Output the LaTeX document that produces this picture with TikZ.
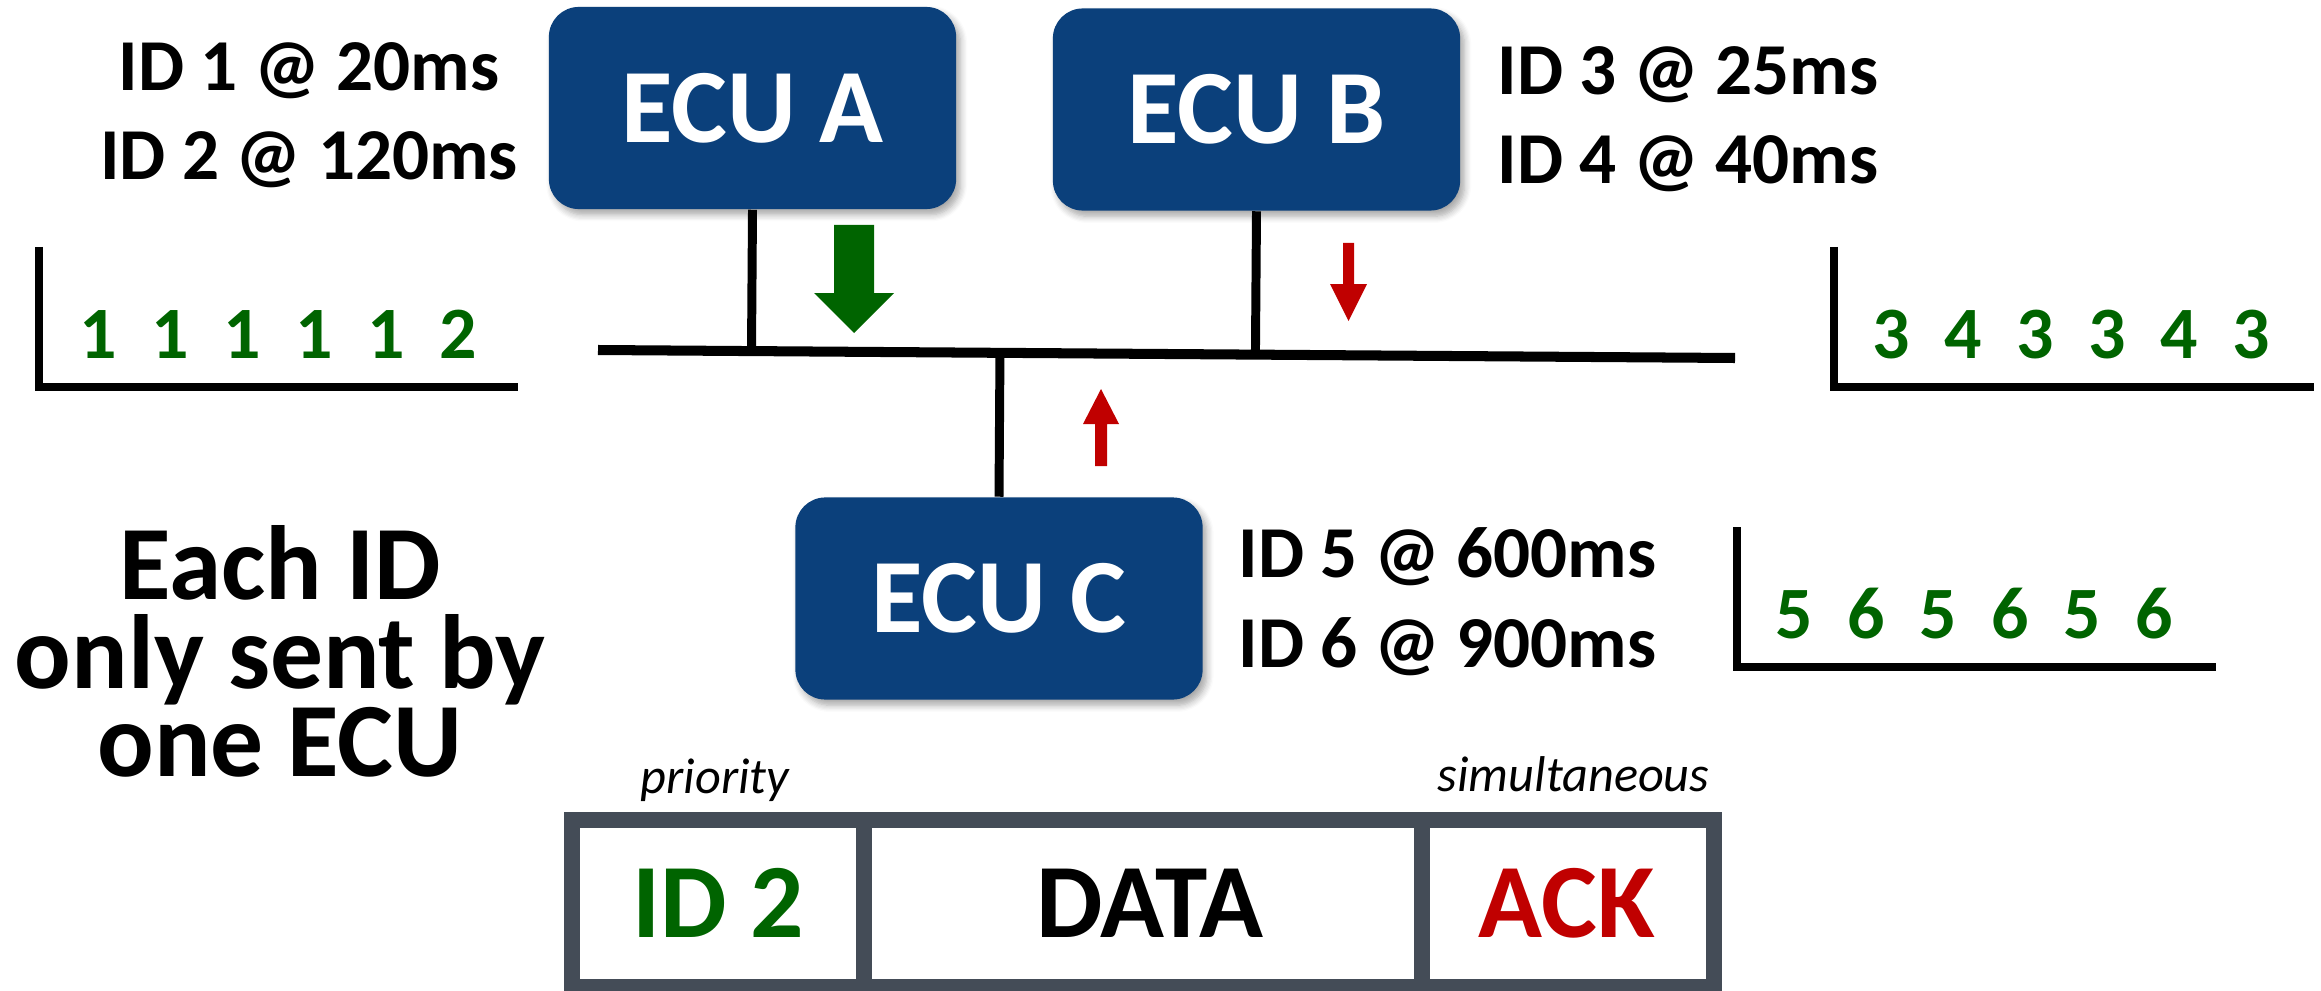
\documentclass[tikz,border=0pt]{standalone}
\usepackage{fontspec}
\setmainfont{Carlito}
\usetikzlibrary{calc,shadows.blur}
\definecolor{ecublue}{RGB}{11,64,123}
\definecolor{idgreen}{RGB}{0,100,0}
\definecolor{ackred}{RGB}{192,0,0}
\definecolor{framegray}{RGB}{68,76,87}
% one digit of a message sequence, centred in a fixed slot
\newcommand{\tk}[1]{\makebox[20.5pt]{#1}}
\begin{document}
\begin{tikzpicture}[x=0.01cm,y=-0.01cm,
  ecu/.style={rectangle, rounded corners=8.5pt, fill=ecublue, text=white,
    minimum width=4.07cm, minimum height=2.02cm, inner sep=0pt,
    font={\fontsize{30pt}{30pt}\selectfont\bfseries},
    blur shadow={shadow xshift=1.2pt, shadow yshift=-1.6pt, shadow opacity=35, shadow blur steps=6}},
  bus/.style={line width=2.85pt, black},
  stub/.style={line width=2.55pt, black},
  axis/.style={line width=2.3pt, black, line join=miter},
  lbl/.style={inner sep=0pt, font={\fontsize{20.8pt}{20.8pt}\selectfont\bfseries}},
  digits/.style={inner sep=0pt, text=idgreen, font={\fontsize{21pt}{21pt}\selectfont\bfseries}},
  big/.style={inner sep=0pt, font={\fontsize{30pt}{30pt}\selectfont\bfseries}},
  field/.style={inner sep=0pt, font={\fontsize{30pt}{30pt}\selectfont\bfseries}},
  note/.style={inner sep=0pt, font={\fontsize{14.3pt}{14.3pt}\selectfont\itshape}},
  frame/.style={line width=4.55pt, draw=framegray},
  sendarrow/.style={fill=idgreen},
  blockarrow/.style={fill=ackred}]
\useasboundingbox (0,0) rectangle (2321,991);

% control units
\node[ecu] (A) at (752.5,108) {ECU A};
\node[ecu] (B) at (1256.5,109.5) {ECU B};
\node[ecu] (C) at (999,598.5) {ECU C};

% shared bus and the drops to each unit
\coordinate (busL) at (598,350);
\coordinate (busR) at (1735,358);
\draw[bus] (busL) -- (busR);
\draw[stub] (A.south) -- ($(busL)!(A.south)!(busR)$);
\draw[stub] (B.south) -- ($(busL)!(B.south)!(busR)$);
\draw[stub] (C.north) -- ($(busL)!(C.north)!(busR)$);

% transmit / hold-off arrows
\fill[sendarrow] (834,225) -- (874,225) -- (874,293) -- (894,293) -- (854,333)
  -- (814,293) -- (834,293) -- cycle;
\fill[blockarrow] (1343,243) -- (1354,243) -- (1354,284) -- (1367,284) -- (1348.5,321)
  -- (1330,284) -- (1343,284) -- cycle;
\fill[blockarrow] (1095,466) -- (1107,466) -- (1107,424) -- (1119,424) -- (1101,389)
  -- (1083,424) -- (1095,424) -- cycle;

% message periods
\node[lbl, anchor=base] (a1) at (309,91) {ID 1 @ 20ms};
\node[lbl, anchor=base] (a2) at (309,180) {ID 2 @ 120ms};
\node[lbl, anchor=base west] (b1) at (1497,95) {ID 3 @ 25ms};
\node[lbl, anchor=base west] (b2) at (1497,184) {ID 4 @ 40ms};
\node[lbl, anchor=base west] (c1) at (1238,577) {ID 5 @ 600ms};
\node[lbl, anchor=base west] (c2) at (1238,667) {ID 6 @ 900ms};

% transmit sequences
\draw[axis] (39,247) -- (39,387) -- (518,387);
\draw[axis] (1834,247) -- (1834,387) -- (2314,387);
\draw[axis] (1737,527) -- (1737,667) -- (2216,667);
\node[digits, anchor=base] (seqA) at (278,358) {\tk1\tk1\tk1\tk1\tk1\tk2};
\node[digits, anchor=base] (seqB) at (2071,358) {\tk3\tk4\tk3\tk3\tk4\tk3};
\node[digits, anchor=base] (seqC) at (1974,638) {\tk5\tk6\tk5\tk6\tk5\tk6};

% rule
\node[big, anchor=base] (r1) at (280,599) {Each ID};
\node[big, anchor=base] (r2) at (280,688) {only sent by};
\node[big, anchor=base] (r3) at (280,776) {one ECU};

% frame layout
\draw[frame] (572,820) rectangle (1714,987);
\draw[frame] (864,820) -- (864,987);
\draw[frame] (1421.5,820) -- (1421.5,987);
\node[field, text=idgreen, anchor=base] (fid) at (718,937) {ID 2};
\node[field, anchor=base] (fdata) at (1150,937) {DATA};
\node[field, text=ackred, anchor=base] (fack) at (1567,937) {ACK};
\node[note, anchor=base west] (prio) at (640,793) {priority};
\node[note, anchor=base east] (simu) at (1710,791) {simultaneous};
\end{tikzpicture}
\end{document}
